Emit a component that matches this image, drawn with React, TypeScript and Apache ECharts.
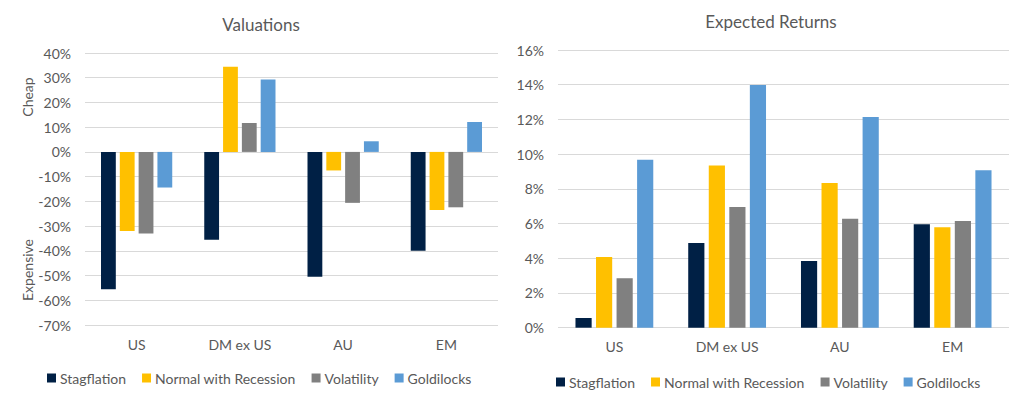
import React, { useEffect, useRef } from "react";
import * as echarts from "echarts";

const categories = ["US", "DM ex US", "AU", "EM"];
const seriesNames = ["Stagflation", "Normal with Recession", "Volatility", "Goldilocks"];
const colors = ["#002045", "#FFC000", "#808080", "#5B9BD5"];

// Valuations (%)
const valStagflation = [-55.5, -35.5, -50.5, -40];
const valNormalRecession = [-32, 34.4, -7.5, -23.5];
const valVolatility = [-33, 11.7, -20.6, -22.4];
const valGoldilocks = [-14.4, 29.3, 4.3, 12.1];

// Expected returns (%)
const retStagflation = [0.56, 4.88, 3.84, 5.96];
const retNormalRecession = [4.07, 9.34, 8.34, 5.79];
const retVolatility = [2.85, 6.96, 6.28, 6.15];
const retGoldilocks = [9.67, 13.99, 12.14, 9.07];

const valData = [valStagflation, valNormalRecession, valVolatility, valGoldilocks];
const retData = [retStagflation, retNormalRecession, retVolatility, retGoldilocks];

const FONT = "Lato";
const TEXT = "#595959";

export default function App() {
  const ref = useRef<HTMLDivElement>(null);
  useEffect(() => {
    if (!ref.current) return;
    const chart = echarts.init(ref.current, undefined, { renderer: "svg" });
    const yAxisCommon = {
      axisLine: { show: false },
      axisTick: { show: false },
      splitLine: { lineStyle: { color: "#D9D9D9", width: 1 } },
      axisLabel: {
        color: TEXT,
        fontSize: 14,
        fontFamily: FONT,
        margin: 14,
        formatter: (v: number) => `${Math.round(v)}%`,
      },
    };
    const xAxisCommon = {
      type: "category" as const,
      data: categories,
      axisLine: { show: false },
      axisTick: { show: false },
      axisLabel: { color: TEXT, fontSize: 14, fontFamily: FONT, margin: 12 },
    };
    const series: any[] = [];
    seriesNames.forEach((name, i) => {
      series.push({
        name,
        type: "bar",
        xAxisIndex: 0,
        yAxisIndex: 0,
        data: valData[i],
        itemStyle: { color: colors[i] },
        barGap: "27%",
        barCategoryGap: "31%",
      });
    });
    seriesNames.forEach((name, i) => {
      series.push({
        name,
        type: "bar",
        xAxisIndex: 1,
        yAxisIndex: 1,
        data: retData[i],
        itemStyle: { color: colors[i] },
        barGap: "27%",
        barCategoryGap: "31%",
      });
    });
    const legendCommon = {
      data: seriesNames,
      icon: "rect",
      itemWidth: 9,
      itemHeight: 9,
      itemGap: 16,
      selectedMode: false,
      textStyle: { color: TEXT, fontSize: 14, fontFamily: FONT, padding: [0, 0, 0, -1] },
    };
    chart.setOption({
      animation: false,
      backgroundColor: "#ffffff",
      textStyle: { fontFamily: FONT },
      title: [
        {
          text: "Valuations",
          left: 256,
          top: 11,
          textAlign: "center",
          textStyle: { color: TEXT, fontSize: 17, fontWeight: "normal", fontFamily: FONT },
        },
        {
          text: "Expected Returns",
          left: 766,
          top: 8,
          textAlign: "center",
          textStyle: { color: TEXT, fontSize: 17, fontWeight: "normal", fontFamily: FONT },
        },
      ],
      legend: [
        { ...legendCommon, left: 42, top: 366 },
        { ...legendCommon, left: 551, top: 370 },
      ],
      grid: [
        { left: 85, right: 1024 - 498, top: 53, height: 272 },
        { left: 558, right: 1024 - 1009, top: 50, height: 277.7 },
      ],
      xAxis: [
        { ...xAxisCommon, gridIndex: 0, position: "bottom" },
        { ...xAxisCommon, gridIndex: 1, position: "bottom" },
      ],
      yAxis: [
        { ...yAxisCommon, type: "value", gridIndex: 0, min: -70, max: 40, interval: 10 },
        { ...yAxisCommon, type: "value", gridIndex: 1, min: 0, max: 16, interval: 2 },
      ],
      graphic: [
        {
          type: "text",
          x: 27,
          y: 97,
          rotation: Math.PI / 2,
          style: {
            text: "Cheap",
            fill: TEXT,
            font: `14px ${FONT}`,
            textAlign: "center",
            textVerticalAlign: "middle",
          },
        },
        {
          type: "text",
          x: 27,
          y: 270,
          rotation: Math.PI / 2,
          style: {
            text: "Expensive",
            fill: TEXT,
            font: `14px ${FONT}`,
            textAlign: "center",
            textVerticalAlign: "middle",
          },
        },
      ],
      series,
    });
    return () => chart.dispose();
  }, []);
  return (
    <div
      ref={ref}
      style={{ position: "fixed", left: 0, top: 0, width: 1024, height: 399 }}
    />
  );
}
